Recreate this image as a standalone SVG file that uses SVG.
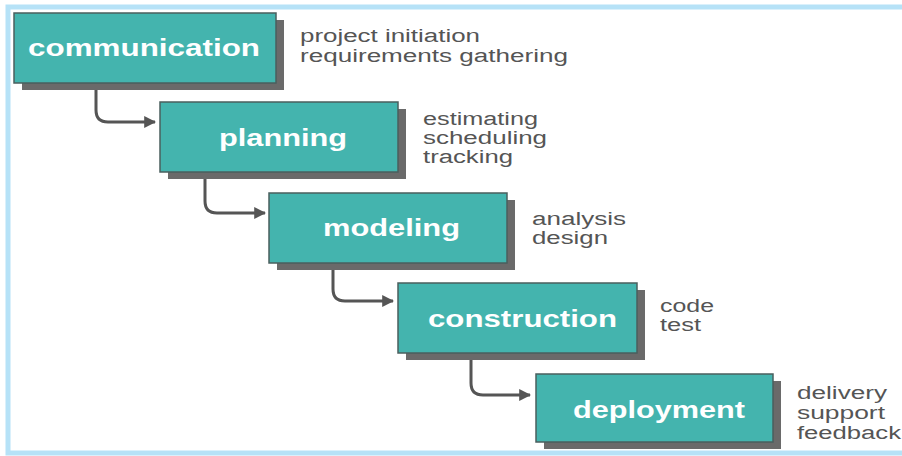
<svg xmlns="http://www.w3.org/2000/svg" width="902" height="456" viewBox="0 0 902 456">
<style>
.shadow{fill:#6a6a6a}
.box{fill:#44b4ae;stroke:#4a5f5e;stroke-width:1.5}
.lbl{font-family:"Liberation Sans",Arial,sans-serif;font-weight:bold;font-size:24px;fill:#ffffff}
.note{font-family:"Liberation Sans",Arial,sans-serif;font-size:18px;fill:#555555}
.conn{fill:none;stroke:#555555;stroke-width:3}
</style>
<defs>
<marker id="arr" viewBox="0 0 10 10" refX="9" refY="5" markerWidth="4" markerHeight="4" orient="auto" markerUnits="strokeWidth">
<path d="M0,0 L10,5 L0,10 z" fill="#555555"/>
</marker>
</defs>
<rect x="0" y="0" width="902" height="456" fill="#ffffff"/>
<rect x="8" y="7" width="900" height="446" fill="none" stroke="#b6e2f7" stroke-width="5"/>
<g id="connectors">
<path class="conn" d="M96,84 V110 Q96,122 108,122 H155" marker-end="url(#arr)"/>
<path class="conn" d="M205,173 V201 Q205,213 217,213 H265" marker-end="url(#arr)"/>
<path class="conn" d="M333,264 V289 Q333,301 345,301 H393" marker-end="url(#arr)"/>
<path class="conn" d="M471,354 V383 Q471,395 483,395 H530" marker-end="url(#arr)"/>
</g>
<g id="communication">
<rect class="shadow" x="22" y="20" width="262" height="70"/>
<rect class="box" x="14" y="13" width="262" height="70"/>
<text class="lbl" x="28" y="56" textLength="232" lengthAdjust="spacingAndGlyphs">communication</text>
<text class="note" x="300" y="42" textLength="180" lengthAdjust="spacingAndGlyphs">project initiation</text>
<text class="note" x="300" y="62" textLength="268" lengthAdjust="spacingAndGlyphs">requirements gathering</text>
</g>
<g id="planning">
<rect class="shadow" x="168" y="109" width="238" height="70"/>
<rect class="box" x="160" y="102" width="238" height="70"/>
<text class="lbl" x="219" y="146" textLength="128" lengthAdjust="spacingAndGlyphs">planning</text>
<text class="note" x="423" y="125" textLength="115" lengthAdjust="spacingAndGlyphs">estimating</text>
<text class="note" x="423" y="144" textLength="124" lengthAdjust="spacingAndGlyphs">scheduling</text>
<text class="note" x="423" y="163" textLength="90" lengthAdjust="spacingAndGlyphs">tracking</text>
</g>
<g id="modeling">
<rect class="shadow" x="277" y="200" width="238" height="70"/>
<rect class="box" x="269" y="193" width="238" height="70"/>
<text class="lbl" x="323" y="236" textLength="137" lengthAdjust="spacingAndGlyphs">modeling</text>
<text class="note" x="532" y="225" textLength="94" lengthAdjust="spacingAndGlyphs">analysis</text>
<text class="note" x="532" y="244" textLength="76" lengthAdjust="spacingAndGlyphs">design</text>
</g>
<g id="construction">
<rect class="shadow" x="406" y="290" width="239" height="70"/>
<rect class="box" x="398" y="283" width="239" height="70"/>
<text class="lbl" x="428" y="327" textLength="189" lengthAdjust="spacingAndGlyphs">construction</text>
<text class="note" x="660" y="312" textLength="54" lengthAdjust="spacingAndGlyphs">code</text>
<text class="note" x="660" y="331" textLength="41" lengthAdjust="spacingAndGlyphs">test</text>
</g>
<g id="deployment">
<rect class="shadow" x="544" y="381" width="237" height="68"/>
<rect class="box" x="536" y="374" width="237" height="68"/>
<text class="lbl" x="573" y="418" textLength="172" lengthAdjust="spacingAndGlyphs">deployment</text>
<text class="note" x="797" y="399" textLength="90" lengthAdjust="spacingAndGlyphs">delivery</text>
<text class="note" x="797" y="419" textLength="88" lengthAdjust="spacingAndGlyphs">support</text>
<text class="note" x="797" y="439" textLength="104" lengthAdjust="spacingAndGlyphs">feedback</text>
</g>
</svg>
